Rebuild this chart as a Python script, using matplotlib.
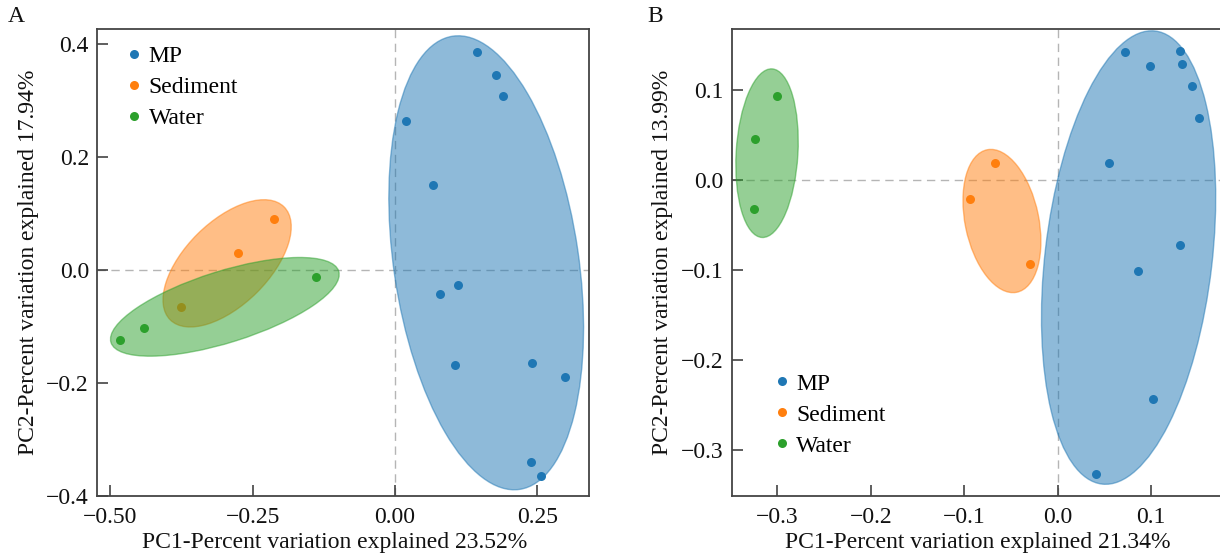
import numpy as np
import matplotlib
matplotlib.use("Agg")
import matplotlib.pyplot as plt
from matplotlib.patches import Ellipse
from matplotlib.lines import Line2D

plt.rcParams['font.family'] = ['Liberation Serif', 'DejaVu Serif']
FS = 17
plt.rcParams['font.size'] = FS

groups = ["MP", "Sediment", "Water"]
colors = ["#1f77b4", "#ff7f0e", "#2ca02c"]

# Panel A data
a_mp_x = [0.144, 0.177, 0.189, 0.020, 0.066, 0.079, 0.111, 0.106, 0.241, 0.299, 0.239, 0.256]
a_mp_y = [0.386, 0.346, 0.309, 0.264, 0.151, -0.043, -0.027, -0.168, -0.165, -0.189, -0.339, -0.365]
a_sed_x = [-0.212, -0.2765, -0.3767]
a_sed_y = [0.0897, 0.0306, -0.065]
a_wat_x = [-0.1388, -0.441, -0.4833]
a_wat_y = [-0.0124, -0.103, -0.1245]
# ellipses A (MP, Sediment, Water): centre, half-extent in x / y, correlation
a_ell_cx = [0.160, -0.295, -0.299]
a_ell_cy = [0.013, 0.012, -0.065]
a_ell_hw = [0.171, 0.1126, 0.2008]
a_ell_hh = [0.402, 0.1127, 0.0874]
a_ell_rho = [-0.287, 0.575, 0.655]

# Panel B data
b_mp_x = [0.0722, 0.1303, 0.0982, 0.1324, 0.1435, 0.1510, 0.0551, 0.1303, 0.0858, 0.1014, 0.0404]
b_mp_y = [0.1426, 0.1441, 0.1270, 0.1293, 0.1044, 0.0689, 0.0189, -0.0722, -0.1007, -0.2437, -0.3270]
b_sed_x = [-0.0676, -0.0936, -0.0301]
b_sed_y = [0.0193, -0.0211, -0.0937]
b_wat_x = [-0.3003, -0.3243, -0.3253]
b_wat_y = [0.0933, 0.0452, -0.0322]
b_ell_cx = [0.0758, -0.0597, -0.311]
b_ell_cy = [-0.086, -0.0454, 0.030]
b_ell_hw = [0.0932, 0.0417, 0.0334]
b_ell_hh = [0.252, 0.0796, 0.0937]
b_ell_rho = [0.264, -0.283, 0.14]

a_xticks = [-0.50, -0.25, 0.00, 0.25]
a_yticks = [-0.4, -0.2, 0.0, 0.2, 0.4]
b_xticks = [-0.3, -0.2, -0.1, 0.0, 0.1]
b_yticks = [-0.3, -0.2, -0.1, 0.0, 0.1]

W, H = 1220, 559
fig = plt.figure(figsize=(W / 100, H / 100), dpi=100)

def px_axes(left, top, right, bottom):
    return fig.add_axes([left / W, 1 - bottom / H, (right - left) / W, (bottom - top) / H])

axA = px_axes(97.3, 29, 588.7, 496)
axB = px_axes(731.8, 29, 1223.2, 496)


def draw_ellipse(ax, cx, cy, hw, hh, rho, color, z):
    sxy = rho * hw * hh
    cov = np.array([[hw ** 2, sxy], [sxy, hh ** 2]])
    vals, vecs = np.linalg.eigh(cov)
    order = np.argsort(vals)[::-1]
    vals, vecs = vals[order], vecs[:, order]
    ang = np.degrees(np.arctan2(vecs[1, 0], vecs[0, 0]))
    e = Ellipse((cx, cy), 2 * np.sqrt(vals[0]), 2 * np.sqrt(vals[1]), angle=ang,
                facecolor=color, edgecolor=color, alpha=0.5, lw=1.0, zorder=z)
    ax.add_patch(e)


def panel(ax, pts, ell, xlim, ylim, xticks, yticks, xfmt, yfmt, xlabel, ylabel,
          leg_anchor, ylab_x, xlab_x):
    ax.axhline(0, color="#b5b5b5", lw=1.0, ls=(0, (6, 4)), zorder=0.5)
    ax.axvline(0, color="#b5b5b5", lw=1.0, ls=(0, (6, 4)), zorder=0.5)
    for i, (xs, ys) in enumerate(pts):
        ax.scatter(xs, ys, s=42, color=colors[i], linewidths=0, zorder=2 + 2 * i)
        draw_ellipse(ax, ell[0][i], ell[1][i], ell[2][i], ell[3][i], ell[4][i],
                     colors[i], 2.5 + 2 * i)
    ax.set_xlim(*xlim)
    ax.set_ylim(*ylim)
    ax.set_xticks(xticks)
    ax.set_yticks(yticks)
    ax.set_xticklabels([xfmt.format(v).replace("-", "\u2212") for v in xticks])
    ax.set_yticklabels([yfmt.format(v).replace("-", "\u2212") for v in yticks])
    ax.tick_params(direction="in", length=8, width=1.1, color="#333333",
                   labelsize=FS, labelcolor="#111111")
    ax.tick_params(axis="y", pad=6)
    ax.tick_params(axis="x", pad=8)
    for s in ax.spines.values():
        s.set_color("#444444")
        s.set_linewidth(1.3)
    ax.set_xlabel(xlabel, fontsize=FS, color="#111111")
    ax.set_ylabel(ylabel, fontsize=FS, color="#111111")
    ax.yaxis.set_label_coords(ylab_x, 0.5)
    ax.xaxis.set_label_coords(xlab_x, -0.078)
    handles = [Line2D([], [], ls="", marker="o", ms=6.5, mec="none", mfc=c) for c in colors]
    ax.legend(handles, groups, loc="upper left", bbox_to_anchor=leg_anchor,
              frameon=False, borderpad=0, borderaxespad=0, handlelength=0.7,
              handletextpad=0.27, labelspacing=0.4, fontsize=FS)


panel(axA,
      [(a_mp_x, a_mp_y), (a_sed_x, a_sed_y), (a_wat_x, a_wat_y)],
      (a_ell_cx, a_ell_cy, a_ell_hw, a_ell_hh, a_ell_rho),
      (-0.523, 0.340), (-0.4, 0.427), a_xticks, a_yticks, "{:.2f}", "{:.1f}",
      "PC1-Percent variation explained 23.52%",
      "PC2-Percent variation explained 17.94%",
      (0.0578, 0.965), -0.119, 0.482)

panel(axB,
      [(b_mp_x, b_mp_y), (b_sed_x, b_sed_y), (b_wat_x, b_wat_y)],
      (b_ell_cx, b_ell_cy, b_ell_hw, b_ell_hh, b_ell_rho),
      (-0.3487, 0.177), (-0.351, 0.168), b_xticks, b_yticks, "{:.1f}", "{:.1f}",
      "PC1-Percent variation explained 21.34%",
      "PC2-Percent variation explained 13.99%",
      (0.0845, 0.263), -0.12, 0.5)

fig.text(16 / W, 1 - 16 / H, "A", fontsize=FS, ha="center", va="center", color="#111111")
fig.text(655 / W, 1 - 16 / H, "B", fontsize=FS, ha="center", va="center", color="#111111")

fig.savefig("out.png", dpi=100)
